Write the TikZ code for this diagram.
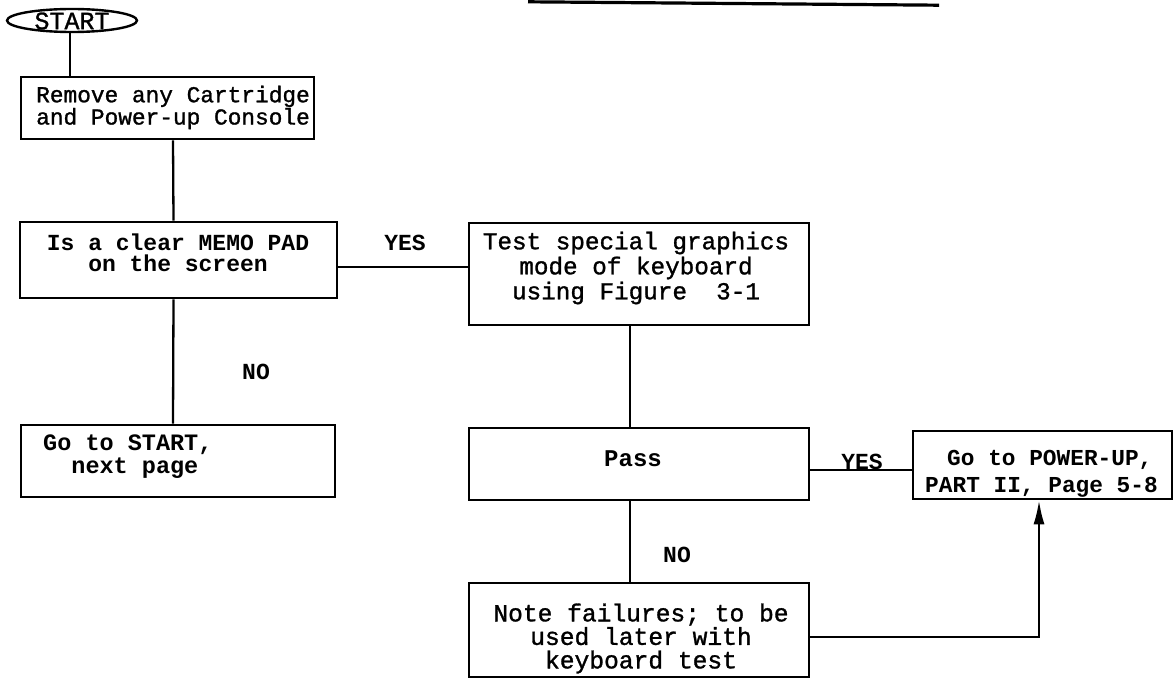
\documentclass[tikz,border=0pt]{standalone}
\usepackage{fontspec}
\setmainfont{Liberation Mono}
\newfontfamily\twmed{Liberation Mono}[FakeBold=1.2]
\usetikzlibrary{arrows.meta,shapes.geometric}
\tikzset{
  box/.style={draw, line width=2.6pt, rectangle, inner sep=0pt},
  conn/.style={line width=2.3pt},
  txt/.style={inner sep=0pt, font=\fontsize{23}{23}\selectfont\twmed},
  btxt/.style={inner sep=0pt, font=\fontsize{23}{23}\selectfont\bfseries},
}
\begin{document}
\begin{tikzpicture}[x=1pt,y=-1pt]
\useasboundingbox (0,0) rectangle (1174,679);

% stray rule at the top of the page
\draw[line width=3.2pt] (528,1.8) -- (939,5.2);

% shapes
\node[draw, line width=2.4pt, ellipse, minimum width=130pt, minimum height=23pt, inner sep=0pt] (start) at (72,20.5) {};
\node[box, minimum width=293pt, minimum height=62pt] (b1) at (167.5,108) {};
\node[box, minimum width=317pt, minimum height=76pt] (b2) at (178.5,260) {};
\node[box, minimum width=340pt, minimum height=102pt] (b3) at (639,274) {};
\node[box, minimum width=314pt, minimum height=72pt] (b4) at (178,461) {};
\node[box, minimum width=340pt, minimum height=72pt] (pass) at (639,464) {};
\node[box, minimum width=259pt, minimum height=68pt] (pwr) at (1042.5,465) {};
\node[box, minimum width=340pt, minimum height=94pt] (note) at (639,630) {};

% texts
\node[txt, font=\fontsize{25}{25}\selectfont\twmed] (tstart) at (72,21) {START};
\node[txt, anchor=west, align=left, font=\fontsize{22.8}{20}\selectfont\twmed] (t1) at (36,107.5) {Remove any Cartridge\\and Power-up Console};
\node[btxt, align=center, font=\fontsize{23}{21}\selectfont\bfseries] (t2) at (178,253) {Is a clear MEMO PAD\\on the screen};
\node[txt, align=center, font=\fontsize{24.3}{25}\selectfont\twmed] (t3) at (636,268) {Test special graphics\\mode of keyboard\\using Figure~~3-1};
\node[btxt, anchor=west, align=left, font=\fontsize{23.5}{23}\selectfont\bfseries] (t4) at (43,456.5) {Go to START,\\~~next page};
\node[btxt, font=\fontsize{24}{24}\selectfont\bfseries] (tpass) at (633,459) {Pass};
\node[btxt, anchor=west, align=left, font=\fontsize{22.8}{27}\selectfont\bfseries] (tpwr) at (925,474) {\hspace*{22pt}Go to POWER-UP,\\PART II, Page 5-8};
\node[txt, align=center, font=\fontsize{24.6}{23.5}\selectfont\twmed] (tnote) at (641,638.5) {Note failures; to be\\used later with\\keyboard test};

% labels
\node[btxt] (yes1) at (405,243) {YES};
\node[btxt] (no1) at (256,372) {NO};
\node[btxt] (yes2) at (862,462) {YES};
\node[btxt] (no2) at (677,555) {NO};

% connectors
\draw[conn] ([xshift=-2pt]start.south) -- ([xshift=-2pt]start.south |- b1.north);
\draw[conn] ([xshift=5.5pt]b1.south) -- ([xshift=-5pt]b2.north);
\draw[conn] ([xshift=-5pt]b2.south) -- ([xshift=-5pt]b4.north);
\draw[conn] ([yshift=-7pt]b2.east) -- ([yshift=-7pt]b2.east -| b3.west);
\draw[conn] ([xshift=-9pt]b3.south) -- ([xshift=-9pt]pass.north);
\draw[conn] ([yshift=-6pt]pass.east) -- ([yshift=-6pt]pass.east -| pwr.west);
\draw[conn] ([xshift=-9pt]pass.south) -- ([xshift=-9pt]note.north);
\draw[conn, -{Latex[length=24pt, width=11pt]}] ([yshift=-7pt]note.east) -| ([xshift=-3.5pt]pwr.south);
\end{tikzpicture}
\end{document}
